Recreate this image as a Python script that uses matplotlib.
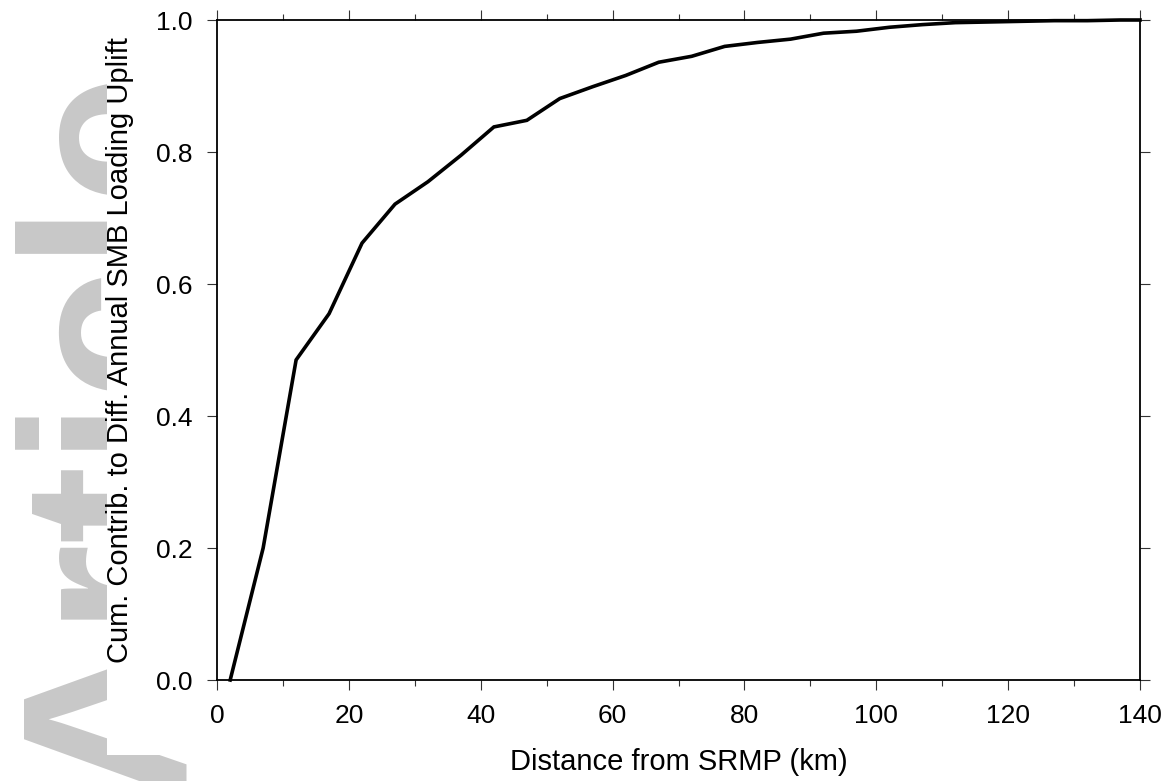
import numpy as np
import matplotlib
matplotlib.use('Agg')
import matplotlib.pyplot as plt
from matplotlib.patches import Rectangle
from matplotlib.ticker import MultipleLocator

# cumulative contribution vs distance
distance_km = [2, 7, 12, 17, 22, 27, 32, 37, 42, 47, 52, 57, 62, 67, 72,
               77, 82, 87, 92, 97, 102, 107, 112, 117, 122, 127, 132, 137, 140]
cum_contrib = [0.0, 0.20, 0.485, 0.555, 0.662, 0.721, 0.755, 0.795, 0.838, 0.848,
               0.881, 0.899, 0.916, 0.936, 0.945, 0.960, 0.966, 0.971, 0.980, 0.983,
               0.989, 0.993, 0.996, 0.997, 0.998, 0.999, 0.999, 1.0, 1.0]

x_ticks = [0, 20, 40, 60, 80, 100, 120, 140]
y_ticks = [0.0, 0.2, 0.4, 0.6, 0.8, 1.0]

plt.rcParams['font.family'] = ['Liberation Sans', 'DejaVu Sans']

W, H = 1171, 781
fig = plt.figure(figsize=(W / 100, H / 100), dpi=100)

# grey watermark, partly hidden behind the white chart area
fig.text(181 / W, 1 - 798 / H, 'Article', rotation=90, rotation_mode='anchor',
         ha='left', va='baseline', fontsize=169, fontweight='bold',
         color='#c8c8c8', zorder=-2)
cover = Rectangle((107 / W, 1 - 755 / H), 1, 1, transform=fig.transFigure,
                  facecolor='white', edgecolor='none', zorder=-1)
fig.add_artist(cover)

ax = fig.add_axes([217 / W, 1 - 680 / H, (1140 - 217) / W, (680 - 20) / H])
ax.plot(distance_km, cum_contrib, color='black', lw=2.6, clip_on=False,
        solid_joinstyle='miter', zorder=3)

ax.set_xlim(0, 140)
ax.set_ylim(0, 1)
ax.set_xticks(x_ticks)
ax.set_yticks(y_ticks)
ax.set_yticklabels(['%.1f' % v for v in y_ticks])
ax.xaxis.set_minor_locator(MultipleLocator(10))

for s in ax.spines.values():
    s.set_linewidth(1.3)
ax.tick_params(which='both', direction='out', top=True, right=True,
               width=0.8, color='#333333', labelsize=19, pad=10)
ax.tick_params(which='major', length=7.5)
ax.tick_params(which='minor', length=4.5)

ax.set_xlabel('Distance from SRMP (km)', fontsize=21, labelpad=14)
ax.set_ylabel('Cum. Contrib. to Diff. Annual SMB Loading Uplift', fontsize=21, labelpad=16)

fig.savefig('out.png', dpi=100)
